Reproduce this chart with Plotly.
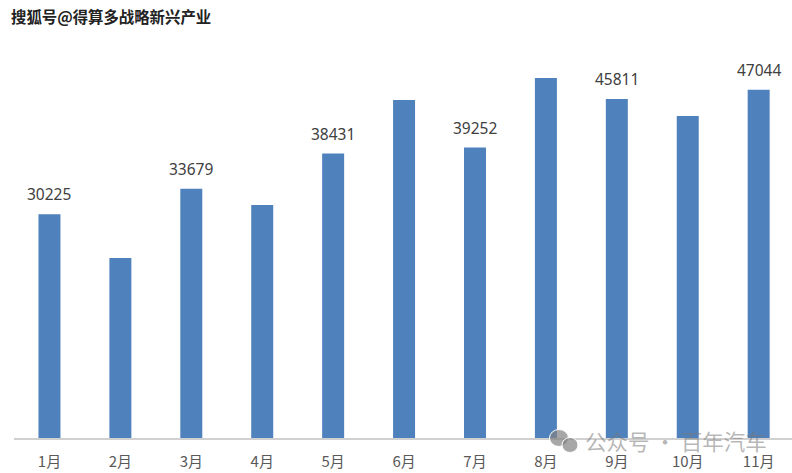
import plotly.graph_objects as go

months = ["1月", "2月", "3月", "4月", "5月", "6月", "7月", "8月", "9月", "10月", "11月"]
values = [30225, 24320, 33679, 31500, 38431, 45680, 39252, 48650, 45811, 43500, 47044]
shown_labels = ["30225", "", "33679", "", "38431", "", "39252", "", "45811", "", "47044"]
title_text = "搜狐号@得算多战略新兴产业"
watermark_text = "公众号 · 百年汽车"

W, H = 792, 473
L, R, T, B = 14, 0, 0, 35
plot_h = H - T - B
CJK = "Noto Sans CJK SC"

fig = go.Figure(go.Bar(
    x=months, y=values, width=0.31, marker=dict(color="#4F81BD", line=dict(width=0)),
    hoverinfo="skip",
))
fig.update_layout(
    width=W, height=H, margin=dict(l=L, r=R, t=T, b=B, pad=0),
    paper_bgcolor="white", plot_bgcolor="white", showlegend=False,
    xaxis=dict(
        type="category", categoryorder="array", categoryarray=months,
        range=[-0.5, 10.47], showgrid=False, ticks="", showline=True, linecolor="#D0D0D0", linewidth=2,
        tickfont=dict(family=CJK, size=15, color="#595959"), ticklabelstandoff=9,
    ),
    yaxis=dict(range=[0, plot_h / 0.0074], visible=False, showgrid=False, zeroline=False),
    font=dict(family=CJK),
)
for m, v, s in zip(months, values, shown_labels):
    if s:
        fig.add_annotation(x=m, y=v, text=s, showarrow=False, yanchor="middle", yshift=20,
                           font=dict(family="Noto Sans", size=15.5, color="#404040"))
fig.add_annotation(
    text=f"<b>{title_text}</b>", xref="paper", yref="paper", x=(12 - L) / (W - L), y=1 - (16 - T) / plot_h,
    xanchor="left", yanchor="middle", showarrow=False, xshift=-3,
    font=dict(family=CJK, size=15.4, color="#222222"),
)
fig.add_annotation(
    text=watermark_text, xref="paper", yref="paper", x=(586 - L) / (W - L), y=1 - (440 - T) / plot_h,
    xanchor="left", yanchor="middle", showarrow=False, xshift=-3,
    font=dict(family=CJK, size=21.5, color="rgba(120,120,120,0.55)"),
)
for cx, cy, rx, ry in [(559, 438, 9.5, 8.5), (570, 445, 8, 7.5)]:
    x0, x1 = (cx - rx - L) / (W - L), (cx + rx - L) / (W - L)
    y0, y1 = 1 - (cy + ry - T) / plot_h, 1 - (cy - ry - T) / plot_h
    fig.add_shape(type="circle", xref="paper", yref="paper", x0=x0, x1=x1, y0=y0, y1=y1,
                  fillcolor="rgba(130,130,130,0.7)", line=dict(color="white", width=1))
fig.write_html("out.html", post_script="document.body.style.margin='0';", config={"displayModeBar": False})
